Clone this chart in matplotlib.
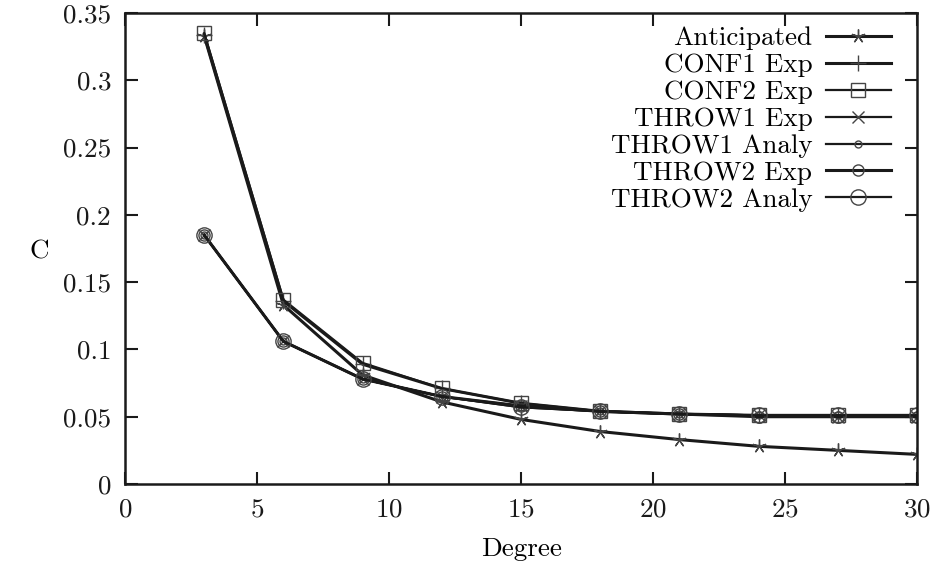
import numpy as np
import matplotlib
matplotlib.use('Agg')
import matplotlib.pyplot as plt

plt.rcParams['font.family'] = ['cmr10', 'DejaVu Serif']
plt.rcParams['axes.formatter.use_mathtext'] = True
plt.rcParams['mathtext.fontset'] = 'cm'

degree = [3, 6, 9, 12, 15, 18, 21, 24, 27, 30]
anticipated = [0.333, 0.133, 0.081, 0.061, 0.048, 0.039, 0.033, 0.028, 0.025, 0.022]
conf1_exp = [0.334, 0.136, 0.089, 0.071, 0.060, 0.054, 0.052, 0.051, 0.051, 0.051]
conf2_exp = [0.335, 0.137, 0.090, 0.071, 0.060, 0.054, 0.052, 0.051, 0.051, 0.051]
throw1_exp = [0.185, 0.106, 0.078, 0.065, 0.058, 0.054, 0.052, 0.051, 0.050, 0.050]
throw1_analy = [0.185, 0.106, 0.078, 0.065, 0.057, 0.054, 0.052, 0.051, 0.051, 0.051]
throw2_exp = [0.185, 0.106, 0.078, 0.065, 0.058, 0.054, 0.052, 0.050, 0.050, 0.050]
throw2_analy = [0.185, 0.106, 0.078, 0.065, 0.057, 0.054, 0.052, 0.051, 0.051, 0.051]

fig = plt.figure(figsize=(9.4, 5.69), dpi=100)
ax = fig.add_axes([125/940, 1-484/569, 792/940, 471/569])

lc = '#1a1a1a'
mc = '#444444'
star = (5, 2, 0)

series = [
    ('Anticipated', anticipated, star, 10, 2.2),
    ('CONF1 Exp', conf1_exp, '+', 12, 2.2),
    ('CONF2 Exp', conf2_exp, 's', 10, 1.6),
    ('THROW1 Exp', throw1_exp, 'x', 9, 1.6),
    ('THROW1 Analy', throw1_analy, 'o', 5, 1.6),
    ('THROW2 Exp', throw2_exp, 'o', 8, 2.2),
    ('THROW2 Analy', throw2_analy, 'o', 11, 1.6),
]
for label, vals, mk, ms, lw in series:
    ax.plot(degree, vals, color=lc, lw=lw, marker=mk, ms=ms,
            mfc='none', mec=mc, mew=1.0, label=label)

ax.set_xlim(0, 30)
ax.set_ylim(0, 0.35)
ax.set_xticks(np.arange(0, 31, 5))
ax.set_yticks(np.arange(0, 0.351, 0.05))
ax.set_yticklabels(['0', '0.05', '0.1', '0.15', '0.2', '0.25', '0.3', '0.35'])
ax.tick_params(direction='in', length=9, width=1.5, top=True, right=True,
               labelsize=19.5, pad=10, colors='#1a1a1a')
for s in ax.spines.values():
    s.set_linewidth(1.8)
    s.set_color('#1a1a1a')

ax.set_xlabel('Degree', fontsize=19.5)
ax.set_ylabel('C', fontsize=19.5, rotation=0, va='center', ha='center')
ax.xaxis.set_label_coords(0.5, -0.113)
ax.yaxis.set_label_coords(-0.108, 0.494)

leg = ax.legend(loc='upper right', frameon=False, markerfirst=False,
                fontsize=19.5, handlelength=2.4, handletextpad=0.5,
                labelspacing=0.11, borderaxespad=0.3,
                bbox_to_anchor=(0.991, 1.012))

fig.savefig('out.png', dpi=100)
